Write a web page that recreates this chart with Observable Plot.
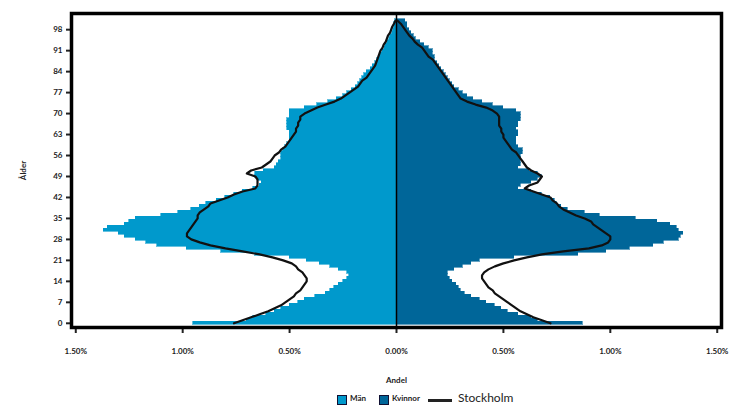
<!DOCTYPE html>
<html>
<head>
<meta charset="utf-8">
<script src="https://cdn.jsdelivr.net/npm/d3@7"></script>
<script src="https://cdn.jsdelivr.net/npm/@observablehq/plot@0.6"></script>
<style>
  body { margin: 0; background: #fff; font-family: Lato, "Open Sans", sans-serif; }
  #wrap { position: relative; width: 731px; height: 412px; }
  #legend { position: absolute; left: 0; top: 390px; width: 731px; height: 20px; font-family: Lato, sans-serif; color: #222; }
  .sw { position: absolute; top: 5px; width: 8px; height: 8px; border: 1px solid #113; }
  .lt { position: absolute; top: 3px; font-size: 8px; font-weight: bold; }
</style>
</head>
<body>
<div id="wrap">
<div id="chart"></div>
<div id="legend">
  <span class="sw" style="left:337px;background:#0099cc"></span><span class="lt" style="left:350px">Män</span>
  <span class="sw" style="left:379px;background:#006699"></span><span class="lt" style="left:392px">Kvinnor</span>
  <span style="position:absolute;left:428px;top:9px;width:24px;height:2.5px;background:#222"></span>
  <span style="position:absolute;left:458px;top:0px;font-size:12px;color:#222">Stockholm</span>
</div>
</div>
<script>
const ages = d3.range(0, 102);
const yTicks = [0, 7, 14, 21, 28, 35, 42, 49, 56, 63, 70, 77, 84, 91, 98];
const xTicks = [-1.5, -1.0, -0.5, 0, 0.5, 1.0, 1.5];
const seriesNames = ["Män", "Kvinnor", "Stockholm"];

const men = [0.95,0.70,0.67,0.61,0.57,0.54,0.50,0.46,0.43,0.38,
0.33,0.31,0.29,0.27,0.25,0.23,0.22,0.23,0.27,0.31,
0.36,0.42,0.50,0.66,0.82,0.98,1.12,1.17,1.22,1.27,
1.30,1.37,1.35,1.27,1.25,1.22,1.10,1.02,0.96,0.92,
0.89,0.84,0.80,0.76,0.72,0.67,0.64,0.63,0.65,0.66,
0.66,0.62,0.57,0.56,0.55,0.54,0.54,0.54,0.53,0.52,
0.51,0.50,0.50,0.50,0.50,0.51,0.51,0.51,0.51,0.50,
0.50,0.50,0.43,0.37,0.32,0.28,0.25,0.23,0.21,0.19,
0.18,0.17,0.16,0.15,0.14,0.12,0.11,0.10,0.09,0.08,
0.075,0.065,0.055,0.05,0.04,0.035,0.03,0.02,0.015,0.01,
0.01,0.005];

const women = [0.87,0.66,0.63,0.57,0.52,0.49,0.46,0.42,0.39,0.35,
0.32,0.30,0.29,0.28,0.26,0.25,0.24,0.24,0.27,0.31,
0.35,0.39,0.55,0.85,0.98,1.09,1.20,1.25,1.32,1.33,
1.34,1.32,1.31,1.28,1.22,1.12,0.95,0.88,0.80,0.77,
0.75,0.74,0.72,0.68,0.63,0.57,0.58,0.63,0.66,0.68,
0.66,0.62,0.57,0.58,0.58,0.58,0.58,0.59,0.59,0.57,
0.56,0.56,0.56,0.57,0.57,0.56,0.57,0.57,0.58,0.58,
0.58,0.56,0.50,0.45,0.40,0.36,0.33,0.31,0.29,0.27,
0.26,0.25,0.24,0.23,0.22,0.21,0.20,0.19,0.18,0.18,
0.17,0.17,0.15,0.13,0.11,0.09,0.08,0.07,0.06,0.05,
0.05,0.04];

const sthlmMen = [0.76,0.72,0.68,0.64,0.60,0.57,0.54,0.52,0.50,0.48,
0.47,0.45,0.44,0.43,0.42,0.42,0.43,0.44,0.46,0.47,
0.49,0.53,0.58,0.64,0.72,0.80,0.87,0.92,0.96,0.98,
0.98,0.97,0.96,0.95,0.94,0.93,0.93,0.92,0.90,0.88,
0.87,0.83,0.79,0.76,0.72,0.66,0.65,0.65,0.65,0.66,
0.70,0.68,0.63,0.61,0.59,0.58,0.57,0.55,0.54,0.52,
0.51,0.50,0.49,0.48,0.47,0.47,0.46,0.46,0.45,0.45,
0.43,0.40,0.37,0.33,0.29,0.26,0.24,0.22,0.20,0.18,
0.17,0.16,0.14,0.13,0.12,0.11,0.10,0.095,0.09,0.085,
0.08,0.075,0.065,0.06,0.05,0.045,0.04,0.03,0.025,0.02,
0.012,0.005];

const sthlmWomen = [0.72,0.68,0.64,0.61,0.58,0.56,0.54,0.52,0.50,0.48,
0.46,0.45,0.43,0.42,0.41,0.40,0.40,0.41,0.43,0.46,
0.50,0.55,0.61,0.68,0.78,0.90,0.96,0.99,1.00,1.00,
0.98,0.96,0.94,0.92,0.91,0.88,0.84,0.81,0.78,0.76,
0.75,0.73,0.72,0.68,0.64,0.60,0.62,0.66,0.67,0.68,
0.66,0.63,0.61,0.60,0.59,0.58,0.57,0.56,0.54,0.53,
0.52,0.51,0.50,0.50,0.49,0.49,0.48,0.48,0.48,0.48,
0.47,0.45,0.42,0.37,0.33,0.30,0.29,0.28,0.27,0.26,
0.25,0.24,0.23,0.22,0.21,0.20,0.19,0.18,0.17,0.15,
0.14,0.13,0.12,0.10,0.085,0.075,0.06,0.05,0.04,0.03,
0.02,0.005];

const bars = [
  ...ages.map((a, i) => ({age: a, v: -men[i], sex: seriesNames[0]})),
  ...ages.map((a, i) => ({age: a, v: women[i], sex: seriesNames[1]}))
];
const lineM = ages.map((a, i) => ({age: a, v: -sthlmMen[i]}));
const lineW = ages.map((a, i) => ({age: a, v: sthlmWomen[i]}));

const chart = Plot.plot({
  width: 731,
  height: 390,
  marginLeft: 71,
  marginRight: 10,
  marginTop: 13,
  marginBottom: 63,
  style: {fontFamily: "Lato, 'Open Sans', sans-serif", fontSize: "8px", color: "#222"},
  x: {domain: [-1.52, 1.52], ticks: xTicks, tickSize: 6, label: "Andel", labelAnchor: "center", labelArrow: "none", labelOffset: 55,
      tickFormat: d => Math.abs(d).toFixed(2) + "%", tickPadding: 15},
  y: {domain: [-1.4, 103.4], ticks: yTicks, tickSize: 5, label: "Ålder", labelAnchor: "center", labelArrow: "none", labelOffset: 51},
  color: {domain: seriesNames.slice(0, 2), range: ["#0099cc", "#006699"]},
  marks: [
    Plot.rectX(bars, {x1: 0, x2: "v", y1: d => d.age - 0.5, y2: d => d.age + 0.5, fill: "sex", stroke: "sex", strokeWidth: 0.6, shapeRendering: "crispEdges"}),
    Plot.ruleX([0], {stroke: "#000", strokeWidth: 1.5}),
    Plot.line(lineM, {x: "v", y: "age", stroke: "#111", strokeWidth: 2.2}),
    Plot.line(lineW, {x: "v", y: "age", stroke: "#111", strokeWidth: 2.2}),
    Plot.frame({stroke: "#000", strokeWidth: 3.5})
  ]
});
chart.querySelectorAll('[aria-label="x-axis tick label"] text, [aria-label="y-axis tick label"] text').forEach(t => t.setAttribute("font-weight", "bold"));
chart.querySelectorAll('[aria-label="x-axis tick"], [aria-label="y-axis tick"]').forEach(g => g.setAttribute("stroke-width", "2"));
chart.querySelectorAll('[aria-label="x-axis label"] text, [aria-label="y-axis label"] text').forEach(t => t.setAttribute("font-weight", "bold"));
document.getElementById("chart").appendChild(chart);
</script>
</body>
</html>
